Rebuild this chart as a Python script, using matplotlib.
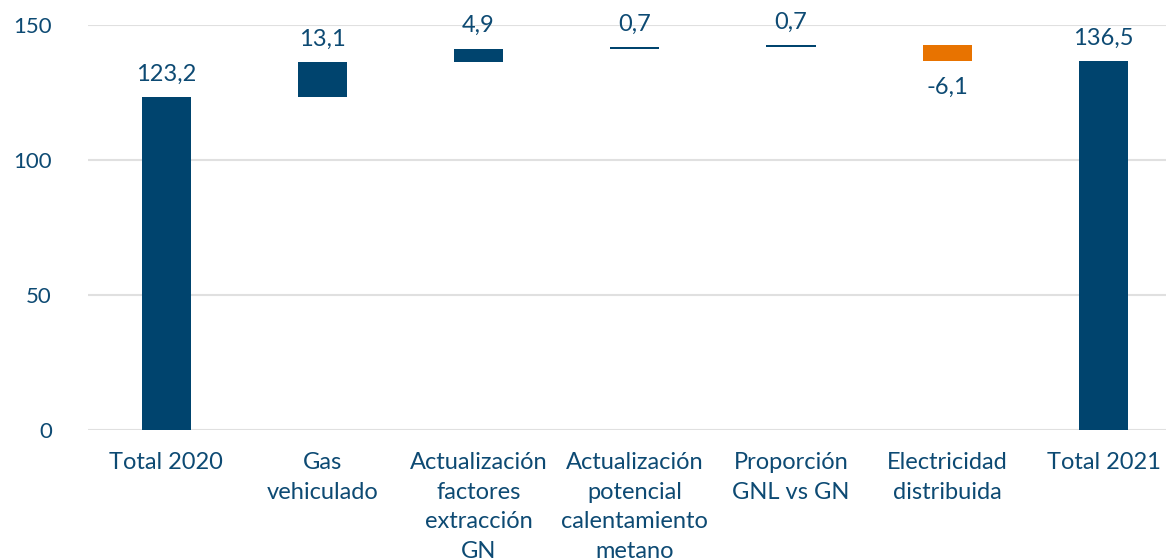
import matplotlib.pyplot as plt

categories = ['Total 2020', 'Gas\nvehiculado', 'Actualización\nfactores\nextracción\nGN',
              'Actualización\npotencial\ncalentamiento\nmetano', 'Proporción\nGNL vs GN',
              'Electricidad\ndistribuida', 'Total 2021']
values = [123.2, 13.1, 4.9, 0.7, 0.7, -6.1, 136.5]
is_total = [True, False, False, False, False, False, True]
value_labels = ['123,2', '13,1', '4,9', '0,7', '0,7', '-6,1', '136,5']

blue = '#00446e'
orange = '#e87300'
text_col = '#0d4a73'

plt.rcParams['font.family'] = ['Lato', 'DejaVu Sans']

fig = plt.figure(figsize=(11.66, 5.58), dpi=100)
ax = fig.add_axes([88 / 1166, 128 / 558, (1166 - 88) / 1166, 405 / 558])

# compute waterfall bottoms
bottoms = []
heights = []
running = 0
for v, tot in zip(values, is_total):
    if tot:
        bottoms.append(0)
        heights.append(v)
        running = v
    else:
        if v >= 0:
            bottoms.append(running)
        else:
            bottoms.append(running + v)
        heights.append(abs(v))
        running += v

colors = [orange if v < 0 else blue for v in values]
x = list(range(len(categories)))
ax.bar(x, heights, bottom=bottoms, width=0.315, color=colors, zorder=3)

for i, (b, h, v, lab) in enumerate(zip(bottoms, heights, values, value_labels)):
    if v < 0:
        ax.annotate(lab, (i, b), xytext=(0, -11), textcoords='offset points',
                    ha='center', va='top', fontsize=17, color=text_col)
    else:
        ax.annotate(lab, (i, b + h), xytext=(0, 9), textcoords='offset points',
                    ha='center', va='bottom', fontsize=17, color=text_col)

ax.set_xlim(-0.5, 6.4)
ax.set_ylim(0, 150)
ax.set_yticks([0, 50, 100, 150])
ax.yaxis.grid(True, color='#e0e0e0', linewidth=1.5, zorder=0)
ax.set_axisbelow(True)
for s in ax.spines.values():
    s.set_visible(False)
ax.set_xticks(x)
ax.set_xticklabels(categories, linespacing=1.5)
ax.tick_params(axis='both', length=0, labelsize=17, colors=text_col)
ax.tick_params(axis='x', pad=16)
ax.tick_params(axis='y', pad=26, labelsize=16)

plt.savefig('out.png', dpi=100)
